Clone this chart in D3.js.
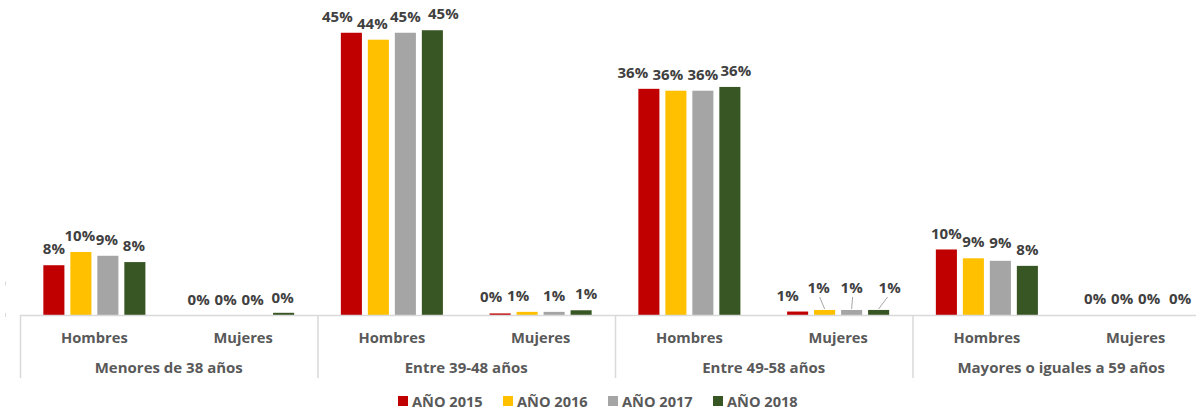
<!DOCTYPE html>
<html>
<head>
<meta charset="utf-8">
<script src="https://cdn.jsdelivr.net/npm/d3@7"></script>
<style>
  body { margin: 0; background: #fff; }
  svg text { font-family: 'Open Sans', sans-serif; font-weight: bold; }
</style>
</head>
<body>
<div id="chart"></div>
<script>
// Age groups, sexes and years (series)
const groups = ["Menores de 38 años", "Entre 39-48 años", "Entre 49-58 años", "Mayores o iguales a 59 años"];
const sexes = ["Hombres", "Mujeres"];
const years = ["AÑO 2015", "AÑO 2016", "AÑO 2017", "AÑO 2018"];

// % of people, ordered group x sex (H, M, H, M, ...)
const values2015 = [7.9, 0.0, 44.8, 0.25, 35.9, 0.55, 10.4, 0.0];
const values2016 = [10.0, 0.0, 43.7, 0.5, 35.6, 0.8, 9.0, 0.0];
const values2017 = [9.4, 0.0, 44.8, 0.5, 35.6, 0.8, 8.6, 0.0];
const values2018 = [8.4, 0.35, 45.2, 0.75, 36.2, 0.8, 7.8, 0.0];
const seriesValues = [values2015, values2016, values2017, values2018];

const colors = ["#c00000", "#ffc000", "#a5a5a5", "#375623"];

// Excel-style label nudges (layout only): key "group|sex|year"
const labelNudges = {
    "0|0|1": { dx: -1, dy: 0 },
    "0|0|2": { dx: -1, dy: 0 },
    "0|0|3": { dx: -1, dy: 0 },
    "0|1|0": { dx: -4, dy: 1 },
    "0|1|1": { dx: -4, dy: 1 },
    "0|1|2": { dx: -4, dy: 1 },
    "0|1|3": { dx: -1, dy: 1 },
    "1|0|0": { dx: -14, dy: 0 },
    "1|0|1": { dx: -6, dy: 0 },
    "1|0|3": { dx: 11, dy: 0 },
    "1|1|0": { dx: -9, dy: 0 },
    "1|1|1": { dx: -9, dy: 0 },
    "1|1|3": { dx: 5, dy: 0 },
    "2|0|0": { dx: -16, dy: 0 },
    "2|0|1": { dx: -8, dy: 0 },
    "2|0|3": { dx: 6, dy: 0 },
    "2|1|0": { dx: -10, dy: 0 },
    "2|1|1": { dx: -6, dy: -6, leader: true },
    "2|1|2": { dx: 0, dy: -6, leader: true },
    "2|1|3": { dx: 11, dy: -6, leader: true },
    "3|0|0": { dx: 0, dy: 1 },
    "3|0|2": { dx: 0, dy: -2 },
    "3|1|3": { dx: 4, dy: 0 }
};

const W = 1196, H = 412;
const baseY = 315;

const svg = d3.select("#chart").append("svg")
    .attr("width", W)
    .attr("height", H);

// Scales
const x0 = d3.scaleBand().domain(groups).range([20, 1210]).padding(0);
const x1 = d3.scaleBand().domain(sexes).range([0, x0.bandwidth()]).padding(0);
const x2 = d3.scaleBand().domain(years).range([0, x1.bandwidth()])
    .paddingInner(0.22).paddingOuter(0.865);
const y = d3.scaleLinear().domain([0, 50]).range([baseY, 0]);

// Flatten data
const rows = [];
groups.forEach((g, gi) => {
    sexes.forEach((s, si) => {
        years.forEach((yr, yi) => {
            rows.push({ g, gi, s, si, yr, yi, v: seriesValues[yi][gi * 2 + si] });
        });
    });
});

const barX = d => x0(d.g) + x1(d.s) + x2(d.yr);

// Bars
svg.append("g").selectAll("rect")
    .data(rows)
    .enter()
    .append("rect")
    .attr("x", barX)
    .attr("y", d => y(d.v))
    .attr("width", x2.bandwidth())
    .attr("height", d => baseY - y(d.v))
    .attr("fill", d => colors[d.yi]);

// Leftover y-axis tick marks at the clipped left edge
svg.append("g").selectAll("line")
    .data([0, 5])
    .enter()
    .append("line")
    .attr("x1", 5.5).attr("x2", 5.5)
    .attr("y1", d => y(d) - 2).attr("y2", d => y(d) + 2)
    .attr("stroke", "#d9d9d9");

// Axis line
svg.append("line")
    .attr("x1", 20).attr("x2", W)
    .attr("y1", baseY + 0.5).attr("y2", baseY + 0.5)
    .attr("stroke", "#d9d9d9")
    .attr("stroke-width", 1.5);

// Group separators
const bounds = groups.map(g => x0(g)).concat([x0.range()[1]]);
svg.append("g").selectAll("line")
    .data(bounds)
    .enter()
    .append("line")
    .attr("x1", d => d + 0.5).attr("x2", d => d + 0.5)
    .attr("y1", baseY).attr("y2", 378)
    .attr("stroke", "#d9d9d9")
    .attr("stroke-width", 1.5);

// Value labels
const labels = svg.append("g");
rows.forEach(d => {
    const n = labelNudges[d.gi + "|" + d.si + "|" + d.yi] || { dx: 0, dy: 0 };
    const cx = barX(d) + x2.bandwidth() / 2;
    const lx = cx + n.dx;
    const ly = y(d.v) - 17 + n.dy;
    if (n.leader) {
        labels.append("line")
            .attr("x1", lx - (n.dx > 0 ? 2 : -1)).attr("y1", ly + 10)
            .attr("x2", cx).attr("y2", y(d.v) - 1)
            .attr("stroke", "#a6a6a6")
            .attr("stroke-width", 1);
    }
    labels.append("text")
        .attr("x", lx)
        .attr("y", ly)
        .attr("text-anchor", "middle")
        .attr("dominant-baseline", "central")
        .attr("font-size", "15px")
        .attr("fill", "#404040")
        .text(Math.round(d.v) + "%");
});

// Sex labels
const sexRows = [];
groups.forEach(g => sexes.forEach(s => sexRows.push({ g, s })));
svg.append("g").selectAll("text")
    .data(sexRows)
    .enter()
    .append("text")
    .attr("x", d => x0(d.g) + x1(d.s) + x1.bandwidth() / 2)
    .attr("y", 337)
    .attr("text-anchor", "middle")
    .attr("dominant-baseline", "central")
    .attr("font-size", "14.7px")
    .attr("fill", "#595959")
    .text(d => d.s);

// Group labels
svg.append("g").selectAll("text")
    .data(groups)
    .enter()
    .append("text")
    .attr("x", d => x0(d) + x0.bandwidth() / 2)
    .attr("y", 367)
    .attr("text-anchor", "middle")
    .attr("dominant-baseline", "central")
    .attr("font-size", "15px")
    .attr("fill", "#595959")
    .text(d => d);

// Legend
const legendStart = 398, legendStep = 105;
const legend = svg.append("g").selectAll("g")
    .data(years)
    .enter()
    .append("g")
    .attr("transform", (d, i) => `translate(${legendStart + i * legendStep}, 401)`);

legend.append("rect")
    .attr("x", 0).attr("y", -5)
    .attr("width", 10).attr("height", 10)
    .attr("fill", (d, i) => colors[i]);

legend.append("text")
    .attr("x", 14)
    .attr("y", 0)
    .attr("dominant-baseline", "central")
    .attr("font-size", "14.6px")
    .attr("fill", "#595959")
    .text(d => d);
</script>
</body>
</html>
